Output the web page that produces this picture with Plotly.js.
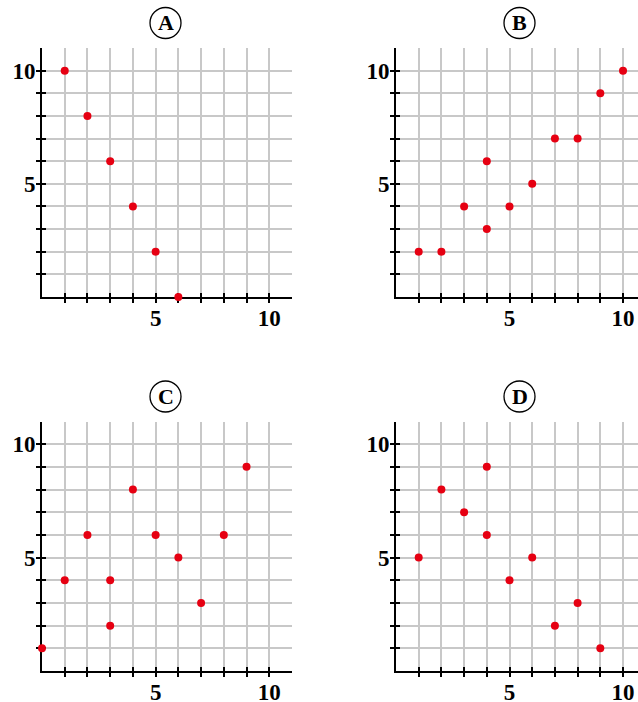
<!DOCTYPE html>
<html><head><meta charset="utf-8">
<script src="https://cdn.plot.ly/plotly-3.0.1.min.js"></script>
<style>html,body{margin:0;padding:0;background:#fff}#chart{width:638px;height:702px}</style>
</head><body><div id="chart"></div>
<script>
// Data
const panelLabels = ['A', 'B', 'C', 'D'];
const ax = [1, 2, 3, 4, 5, 6];
const ay = [10, 8, 6, 4, 2, 0];
const bx = [1, 2, 3, 4, 4, 5, 6, 7, 8, 9, 10];
const by = [2, 2, 4, 3, 6, 4, 5, 7, 7, 9, 10];
const cx = [0, 1, 2, 3, 3, 4, 5, 6, 7, 8, 9];
const cy = [1, 4, 6, 4, 2, 8, 6, 5, 3, 6, 9];
const dx = [1, 2, 3, 4, 4, 5, 6, 7, 8, 9];
const dy = [5, 8, 7, 9, 6, 4, 5, 2, 3, 1];
const tickVals = [1, 2, 3, 4, 5, 6, 7, 8, 9, 10];
const tickText = ['', '', '', '', '5', '', '', '', '', '10'];

const W = 638, H = 702;
const red = '#e60012';
const FAM = '"Liberation Serif", "Times New Roman", serif';
const sets = [[ax, ay], [bx, by], [cx, cy], [dx, dy]];
const traces = [];

// pixel geometry of each panel: [left, right, top, bottom, xmax]
const geo = [
  [42, 292, 48, 297, 11],
  [396, 638, 48, 297, 10.66],
  [42, 292, 421.5, 671, 11],
  [396, 638, 421.5, 671, 10.66]
];
function axisDef(domain, range, anchor) {
  return {
    domain: domain, range: range, anchor: anchor, layer: 'below traces',
    tickmode: 'array', tickvals: tickVals, ticktext: tickText.map(t => t ? '<b>' + t + '</b>' : ''),
    ticks: 'outside', ticklen: 4, tickwidth: 2, tickcolor: '#000',
    showline: true, linecolor: '#000', linewidth: 2,
    showgrid: false, zeroline: false, fixedrange: true,
    tickfont: {family: FAM, size: 23, color: '#000'},
    minor: {dtick: 1, tick0: 0, showgrid: true, gridcolor: '#c8c8c8', gridwidth: 2, ticks: ''}
  };
}
function innerTickAxis(domain, range, anchor, over) {
  return {
    domain: domain, range: range, anchor: anchor, overlaying: over, layer: 'below traces',
    tickmode: 'array', tickvals: tickVals, showticklabels: false,
    ticks: 'inside', ticklen: 4, tickwidth: 2, tickcolor: '#000',
    showline: false, showgrid: false, zeroline: false, fixedrange: true
  };
}
const layout = {
  width: W, height: H, margin: {l: 0, r: 0, t: 0, b: 0},
  font: {family: FAM, size: 23, color: '#000'},
  paper_bgcolor: '#fff', plot_bgcolor: '#fff', showlegend: false,
  annotations: [], shapes: []
};
geo.forEach((g, i) => {
  const n = i === 0 ? '' : i + 1;
  const m = i + 5;
  const xd = [g[0] / W, g[1] / W];
  const yd = [1 - g[3] / H, 1 - g[2] / H];
  const xa = axisDef(xd, [0, g[4]], 'y' + n);
  xa.ticklabelstandoff = -5;
  const ya = axisDef(yd, [0, 11], 'x' + n);
  ya.ticklabelstandoff = -4;
  layout['xaxis' + n] = xa;
  layout['yaxis' + n] = ya;
  // overlay axes carry the inner half of the crossing ticks; data drawn on top of them
  layout['xaxis' + m] = innerTickAxis(xd, [0, g[4]], 'y' + m, 'x' + n);
  layout['yaxis' + m] = innerTickAxis(yd, [0, 11], 'x' + m, 'y' + n);
  traces.push({type: 'scatter', mode: 'markers', x: [], y: [], xaxis: 'x' + n, yaxis: 'y' + n,
    hoverinfo: 'skip', showlegend: false});
  traces.push({
    type: 'scatter', mode: 'markers', x: sets[i][0], y: sets[i][1],
    xaxis: 'x' + m, yaxis: 'y' + m,
    marker: {color: red, size: 8}, cliponaxis: false, hoverinfo: 'skip', showlegend: false
  });
  const cxp = (g[0] + 123.5) / W;
  const cyp = 1 - (g[2] - 25) / H;
  layout.annotations.push({
    xref: 'paper', yref: 'paper', x: cxp, y: cyp, xanchor: 'center', yanchor: 'middle',
    text: '<b>' + panelLabels[i] + '</b>', showarrow: false,
    font: {family: FAM, size: 22, color: '#000'}
  });
  layout.shapes.push({
    type: 'circle', xref: 'paper', yref: 'paper', xsizemode: 'pixel', ysizemode: 'pixel',
    xanchor: cxp, yanchor: cyp, x0: -15.5, x1: 15.5, y0: -15.5, y1: 15.5,
    line: {color: '#000', width: 1.3}
  });
});
Plotly.newPlot('chart', traces, layout, {displayModeBar: false, staticPlot: true});
</script></body></html>
